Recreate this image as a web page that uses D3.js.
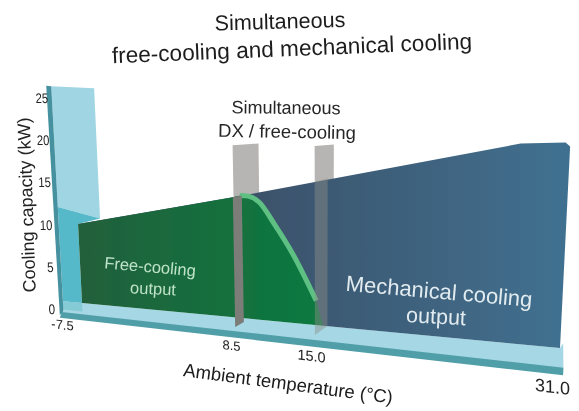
<!DOCTYPE html>
<html>
<head>
<meta charset="utf-8">
<script src="https://cdn.jsdelivr.net/npm/d3@7"></script>
<style>
  html, body { margin: 0; padding: 0; background: #fff; }
  svg { display: block; }
  text { font-family: "Liberation Sans", Arial, sans-serif; }
</style>
</head>
<body>
<div id="chart"></div>
<script>
// tick labels
const tempTicks = [-7.5, 8.5, 15, 31];
const tempTickLabels = ['-7.5', '8.5', '15.0', '31.0'];
const capTicks = [0, 5, 10, 15, 20, 25];

// total capacity (mechanical + free-cooling) against ambient temperature
const totalTemp = [-7.5, 8.5, 9.4, 27.8, 30.7, 31, 31];
const totalCap = [9.4, 14.3, 14.7, 23.8, 24.4, 24.0, 0];

// free-cooling share
const freeTemp = [-7.5, 8.5, 9.4, 10.4, 11.5, 12.8, 14.5, 15];
const freeCap = [9.4, 14.3, 14.7, 14.0, 11.5, 8.2, 2.9, 0];

// edge between the two outputs (the light green stripe)
const edgeTemp = [9.0, 9.6, 10.4, 11.5, 12.8, 14.5];
const edgeCap = [14.6, 14.6, 14.0, 11.5, 8.2, 2.9];

// the two "simultaneous" plates, [temperature, capacity]
const plateBack1 = [[8.55, 20.5], [10.4, 21], [10.4, 14], [8.55, 14]];
const plateFront1 = [[8.5, 14.3], [9.15, 14.6], [9.15, -0.45], [8.5, -1.15]];
const plateBack2 = [[14.4, 21.3], [15.7, 21.7], [15.7, 17], [14.4, 16.5]];
const plateFront2 = [[14.4, 17], [15.3, 17.6], [15.3, 0], [14.4, -1.2]];

// walls and floor of the box, same units
const wallBack = [[-9.5, 25.6], [-5.2, 25.8], [-5.2, 10.3], [-9.5, 11.2]];
const wallLower = [[-9.5, 11.2], [-5.2, 10.3], [-7.5, 9.4], [-7.5, 0], [-9.5, 0]];
const wallEdge = [[-10, 25.6], [-9.5, 25.6], [-9.5, -1.2], [-9.9, -1.7]];
const floorBand = [[-9.5, -1.3], [-9.5, 0], [31, 0], [31.2, 0.6], [31.3, -2.4], [-9.7, -1.4]];
const floorPatch = [[-9.5, 0], [-7.5, 0], [-7.5, -1], [-9.5, -1]];
const floorEdge = [[-9.7, -1.3], [31.3, -2.3], [31.3, -3.2], [-9.9, -2]];

const width = 579;
const height = 411;
const pxPerKw = 8.4;

const svg = d3.select('#chart').append('svg')
    .attr('width', width)
    .attr('height', height);

// the temperature axis is not to scale in the original, so it is piecewise
const x = d3.scaleLinear().domain(tempTicks).range([82, 235, 323, 560]);
const floorY = d3.scaleLinear().domain([82, 560]).range([303, 348]);
const y = d3.scaleLinear().domain([0, 25]).range([309, 98]);

// verticals fan out from the middle of the chart
function px(t, c) {
    const X = x(t);
    return X + (X - 321) * 0.00021 * c * pxPerKw;
}
function py(t, c) {
    return floorY(x(t)) - c * pxPerKw;
}

const line = d3.line().x(d => px(d[0], d[1])).y(d => py(d[0], d[1]));
const zip = (a, b) => a.map((v, i) => [v, b[i]]);

const defs = svg.append('defs');
function gradient(id, x1, x2, c1, c2) {
    const g = defs.append('linearGradient')
        .attr('id', id)
        .attr('gradientUnits', 'userSpaceOnUse')
        .attr('x1', x1).attr('x2', x2).attr('y1', 0).attr('y2', 0);
    g.append('stop').attr('offset', 0).attr('stop-color', c1);
    g.append('stop').attr('offset', 1).attr('stop-color', c2);
}
gradient('blueFill', x(8.5), x(31), '#3b5068', '#41708f');
gradient('greenFill', x(-7.5), x(15), '#22603b', '#0b7a40');
defs.append('filter').attr('id', 'soft')
    .append('feGaussianBlur').attr('stdDeviation', 0.5);
defs.append('filter').attr('id', 'softText')
    .append('feGaussianBlur').attr('stdDeviation', 0.3);

const marks = svg.append('g').attr('filter', 'url(#soft)');
function poly(pts, fill, opacity) {
    return marks.append('path')
        .attr('d', line(pts) + 'Z')
        .attr('fill', fill)
        .attr('opacity', opacity === undefined ? 1 : opacity);
}

poly(wallBack, '#a0d5e3');
poly(floorBand, '#a5d7e4');
poly(floorEdge, '#4f9ea8');
poly(plateBack1, '#b7b5b4');
poly(plateBack2, '#b7b5b4');
poly(wallLower, '#55b9c9');
poly(floorPatch, '#85cbd6');
poly(wallEdge, '#45919f');

poly(zip(totalTemp, totalCap).concat([[15, 0]]), 'url(#blueFill)');

// free-cooling shape, bottom closes along the floor
marks.append('path')
    .attr('d', d3.line()
        .x(d => px(d[0], d[1]))
        .y(d => py(d[0], d[1]))
        .curve(d3.curveMonotoneX)(zip(freeTemp, freeCap)) + 'L' + px(-7.5, 0) + ',' + py(-7.5, 0) + 'Z')
    .attr('fill', 'url(#greenFill)');

marks.append('path')
    .attr('d', d3.line()
        .x(d => px(d[0], d[1]))
        .y(d => py(d[0], d[1]))
        .curve(d3.curveMonotoneX)(zip(edgeTemp, edgeCap)))
    .attr('fill', 'none')
    .attr('stroke', '#5fc083')
    .attr('stroke-width', 5);

poly(plateFront1, '#7b7c78');
poly(plateFront2, '#8d8d88', 0.45);

const texts = svg.append('g').attr('filter', 'url(#softText)');

// axes
const yAxis = texts.append('g')
    .attr('transform', 'matrix(1,0,0.033,1,44.8,0)')
    .call(d3.axisLeft(y).tickValues(capTicks).tickSize(0).tickPadding(0));
yAxis.select('.domain').remove();
yAxis.selectAll('text')
    .attr('font-size', 14)
    .attr('fill', '#222')
    .attr('textLength', d => d < 10 ? 6.5 : 12.5)
    .attr('lengthAdjust', 'spacingAndGlyphs');

const xLabel = d3.scaleLinear().domain(tempTicks).range([62, 231, 311, 552]);
const xAxis = texts.append('g')
    .attr('transform', 'matrix(1,0.1224,0,1,0,312.5)')
    .call(d3.axisBottom(xLabel).tickValues(tempTicks)
        .tickFormat((d, i) => tempTickLabels[i]).tickSize(0).tickPadding(0));
xAxis.select('.domain').remove();
const xTickSizes = [13, 13, 14.5, 18];
xAxis.selectAll('text')
    .attr('font-size', (d, i) => xTickSizes[i])
    .attr('fill', '#222');

// titles and annotations
function label(str, cx, cy, angle, size, fill) {
    texts.append('text')
        .attr('transform', `translate(${cx},${cy}) rotate(${angle})`)
        .attr('text-anchor', 'middle')
        .attr('dominant-baseline', 'middle')
        .attr('font-size', size)
        .attr('fill', fill)
        .text(str);
}
label('Simultaneous', 280, 23, -1.5, 21.6, '#1f1f1f');
label('free-cooling and mechanical cooling', 292, 50, -2.3, 22.6, '#1f1f1f');
label('Simultaneous', 286, 109, 0.5, 18, '#262626');
label('DX / free-cooling', 287, 133, 1, 18.5, '#262626');
label('Free-cooling', 150, 268, 5, 16.5, '#bfe3c8');
label('output', 153, 290, 3, 16.5, '#bfe3c8');
label('Mechanical cooling', 439, 293, 5, 22, '#e2ecf0');
label('output', 436, 318, 3, 21.5, '#e2ecf0');
label('Cooling capacity (kW)', 28, 205, -92, 18, '#222');
label('Ambient temperature (°C)', 288, 385, 7.5, 18.5, '#1a1a1a');
</script>
</body>
</html>
